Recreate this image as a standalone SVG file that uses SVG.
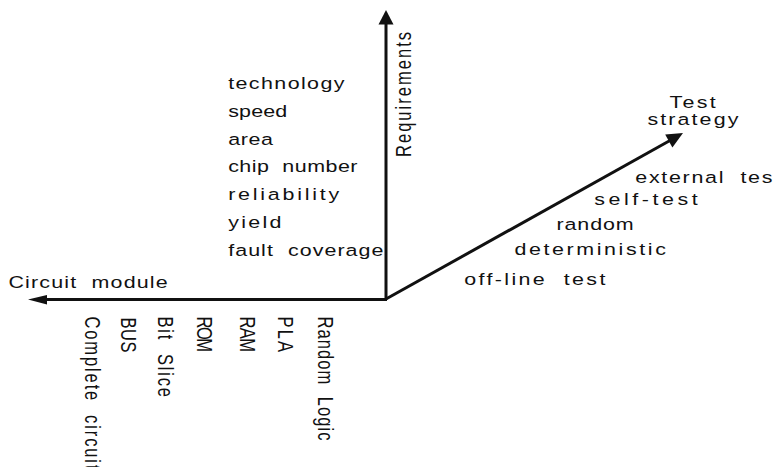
<svg xmlns="http://www.w3.org/2000/svg" width="773" height="467" viewBox="0 0 773 467">
  <style>
    .axis { stroke: #111; stroke-width: 3; fill: none; }
    .head { fill: #111; stroke: none; }
    text { font-family: "Liberation Sans", Arial, sans-serif; font-size: 16.5px; fill: #111; white-space: pre; }
  </style>
  <rect width="773" height="467" fill="#fff"/>

  <!-- three axes from the common origin -->
  <g id="connectors">
    <line class="axis" x1="386" y1="299.5" x2="386" y2="22"/>
    <polygon class="head" points="386,10 378.5,24.5 393.5,24.5"/>
    <line class="axis" x1="387" y1="299.5" x2="44" y2="299.5"/>
    <polygon class="head" points="28,299.5 47,295 47,304.5"/>
    <line class="axis" x1="386" y1="299" x2="670" y2="140.5"/>
    <polygon class="head" points="683,133 672.4,147.5 665.2,134.5"/>
  </g>

  <!-- labels: glyphs are drawn wide, so the text layer is stretched horizontally -->
  <g transform="scale(1.3 1)">
    <g id="requirements">
      <text transform="translate(316.2 157) rotate(-90)" textLength="125" lengthAdjust="spacing">Requirements</text>
      <text x="175.5" y="89" textLength="89.5" lengthAdjust="spacing">technology</text>
      <text x="175.5" y="117" textLength="45.5" lengthAdjust="spacing">speed</text>
      <text x="175.5" y="145" textLength="34.5" lengthAdjust="spacing">area</text>
      <text x="175.5" y="172.5" textLength="99.5" lengthAdjust="spacing">chip  number</text>
      <text x="175.5" y="200" textLength="85.5" lengthAdjust="spacing">reliability</text>
      <text x="175.5" y="228" textLength="41" lengthAdjust="spacing">yield</text>
      <text x="175.5" y="256" textLength="119.5" lengthAdjust="spacing">fault  coverage</text>
    </g>

    <g id="test-strategy">
      <text x="515" y="108" textLength="35.5" lengthAdjust="spacing">Test</text>
      <text x="498" y="125" textLength="70" lengthAdjust="spacing">strategy</text>
      <text x="488.7" y="183" textLength="105.5" lengthAdjust="spacing">external  tes</text>
      <text x="457.2" y="205" textLength="79.5" lengthAdjust="spacing">self-test</text>
      <text x="428" y="230" textLength="59.5" lengthAdjust="spacing">random</text>
      <text x="395.7" y="255" textLength="116.5" lengthAdjust="spacing">deterministic</text>
      <text x="357.2" y="285" textLength="108.5" lengthAdjust="spacing">off-line  test</text>
    </g>

    <g id="circuit-module">
      <text x="6.5" y="288" textLength="122.5" lengthAdjust="spacing">Circuit  module</text>
      <text transform="translate(65.4 316.5) rotate(90)" textLength="153" lengthAdjust="spacing">Complete  circuit</text>
      <text transform="translate(93.1 317.5) rotate(90)" textLength="35" lengthAdjust="spacing">BUS</text>
      <text transform="translate(121.5 316.5) rotate(90)" textLength="80.5" lengthAdjust="spacing">Bit  Slice</text>
      <text transform="translate(151.5 316.5) rotate(90)" textLength="35.5" lengthAdjust="spacing">ROM</text>
      <text transform="translate(184.6 316.5) rotate(90)" textLength="35.5" lengthAdjust="spacing">RAM</text>
      <text transform="translate(213.8 316.5) rotate(90)" textLength="35.5" lengthAdjust="spacing">PLA</text>
      <text transform="translate(244.6 316.5) rotate(90)" textLength="124" lengthAdjust="spacing">Random  Logic</text>
    </g>
  </g>
</svg>
